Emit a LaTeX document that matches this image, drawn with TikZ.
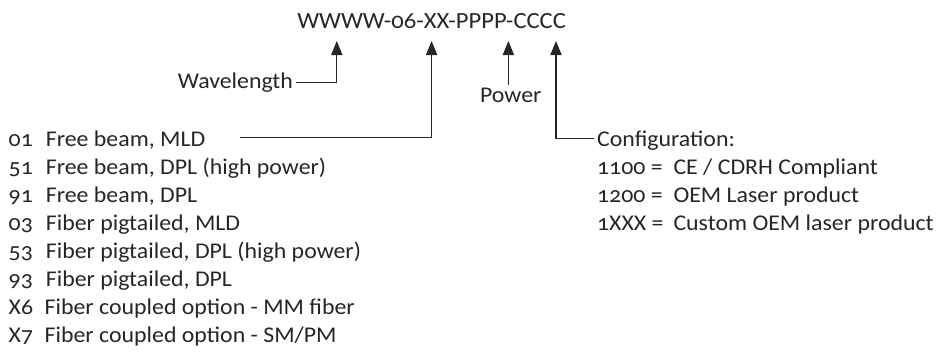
\documentclass[tikz,border=0pt]{standalone}
\usepackage{fontspec}
\setmainfont{Carlito}[Numbers=OldStyle, FakeStretch=1.06]
\usepackage{tikz}
\usetikzlibrary{
  arrows.meta,
  positioning
}
\tikzset{
  code text/.style={
    font=\fontsize{16}{19}\selectfont,
    text=black!85, inner sep=2pt
  },
  row text/.style={
    code text, anchor=base west
  },
  ptr arrow/.style={
    -{Triangle[length=0.35cm,width=0.28cm]},
    line width=0.8pt, draw=black!85
  },
}

\begin{document}
\begin{tikzpicture}

  \useasboundingbox (0,0) rectangle (23.525,8.85);

  % Part number
  \node[code text, anchor=base, font=\fontsize{16.5}{19}\selectfont] (code) at (10.79, 8.14) {WWWW-06-XX-PPPP-CCCC};
  \coordinate (tipW) at (8.42, 7.825);
  \coordinate (tipX) at (10.79, 7.825);
  \coordinate (tipP) at (12.71, 7.825);
  \coordinate (tipC) at (13.90, 7.825);

  % Wavelength
  \node[code text, anchor=base east] (wl) at (7.40, 6.65) {Wavelength};
  \draw[ptr arrow] (wl.east) -| (tipW);

  % Power
  \node[code text, anchor=base] (pw) at (12.77, 6.29) {Power};
  \draw[ptr arrow] (pw.north -| tipP) -- (tipP);

  % Type list
  \node[row text] (n1) at (0.14, 5.18) {01};
  \node[row text] (r1) at (1.07, 5.18) {Free beam, MLD};
  \node[row text] (n2) at (0.14, 4.48) {51};
  \node[row text] (r2) at (1.07, 4.48) {Free beam, DPL (high power)};
  \node[row text] (n3) at (0.14, 3.78) {91};
  \node[row text] (r3) at (1.07, 3.78) {Free beam, DPL};
  \node[row text] (n4) at (0.14, 3.08) {03};
  \node[row text] (r4) at (1.07, 3.08) {Fiber pigtailed, MLD};
  \node[row text] (n5) at (0.14, 2.38) {53};
  \node[row text] (r5) at (1.07, 2.38) {Fiber pigtailed, DPL (high power)};
  \node[row text] (n6) at (0.14, 1.68) {93};
  \node[row text] (r6) at (1.07, 1.68) {Fiber pigtailed, DPL};
  \node[row text] (n7) at (0.14, 0.98) {X6};
  \node[row text] (r7) at (1.04, 0.98) {Fiber coupled option - MM fiber};
  \node[row text] (n8) at (0.14, 0.28) {X7};
  \node[row text] (r8) at (1.04, 0.28) {Fiber coupled option - SM/PM};
  \coordinate (typeStart) at (6.0, 5.4175);
  \draw[ptr arrow] (typeStart) -| (tipX);

  % Configuration
  \node[row text] (cf) at (14.85, 5.18) {Configuration:};
  \draw[ptr arrow] ([yshift=2pt]cf.west) -| (tipC);
  \node[row text] (c1) at (14.85, 4.48) {1100 =};
  \node[row text] (d1) at (16.76, 4.48) {CE / CDRH Compliant};
  \node[row text] (c2) at (14.85, 3.78) {1200 =};
  \node[row text] (d2) at (16.76, 3.78) {OEM Laser product};
  \node[row text] (c3) at (14.85, 3.08) {1XXX =};
  \node[row text] (d3) at (16.76, 3.08) {Custom OEM laser product};

\end{tikzpicture}
\end{document}
